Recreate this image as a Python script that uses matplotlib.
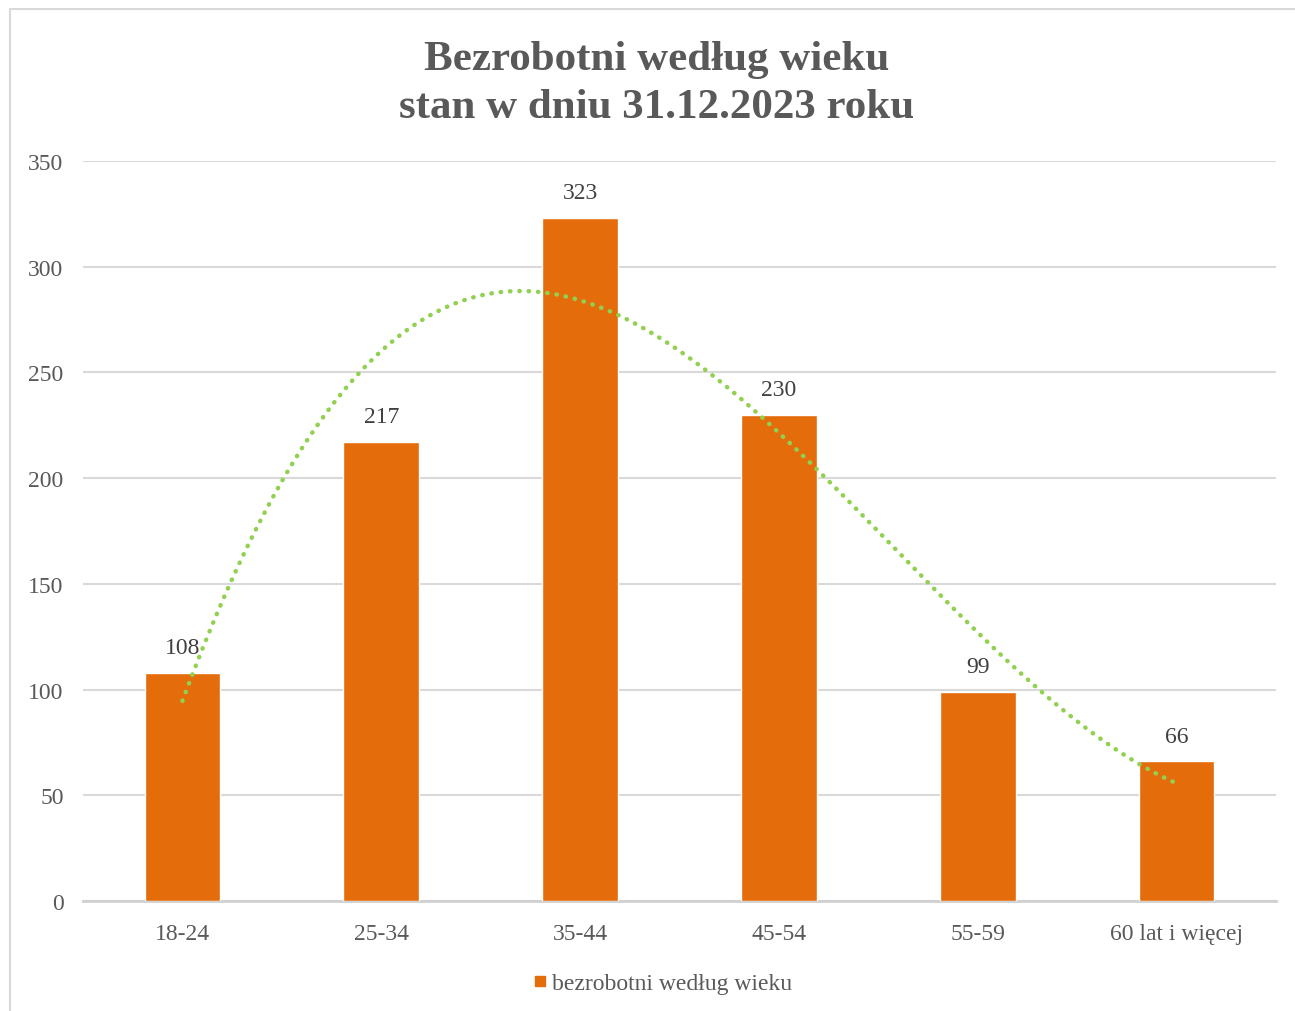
import numpy as np
import matplotlib.pyplot as plt
from matplotlib.patches import Rectangle
from matplotlib.lines import Line2D

plt.rcParams['font.family'] = ['Liberation Serif', 'DejaVu Serif']

# dane
kategorie = ["18-24", "25-34", "35-44", "45-54", "55-59", "60 lat i więcej"]
wartosci = [108, 217, 323, 230, 99, 66]
tytul = "Bezrobotni według wieku\nstan w dniu 31.12.2023 roku"
seria = "bezrobotni według wieku"

kolor_slupka = "#E46C0A"
kolor_trendu = "#92D050"
szary = "#595959"

fig = plt.figure(figsize=(12.95, 10.12), dpi=100)
ax = fig.add_axes([0.0641, 0.1087, 0.9212, 0.7312])

x = np.arange(len(kategorie))
bars = ax.bar(x, wartosci, width=0.38, color=kolor_slupka, edgecolor="white",
              linewidth=1, zorder=3)

for xi, v in zip(x, wartosci):
    ax.text(xi, v + 7, str(v), ha="center", va="bottom", fontsize=17, color="#404040", zorder=5)

# linia trendu wielomianowa (stopien 3), jak w Excelu
wsp = np.polyfit(x + 1, wartosci, 3)
xs = np.linspace(0, 5, 300)
ax.plot(xs, np.polyval(wsp, xs + 1), color=kolor_trendu, linestyle=(0, (0.1, 2.0)),
        linewidth=3.2, dash_capstyle="round", zorder=4)

ax.set_xlim(-0.5, 5.5)
ax.set_ylim(0, 350)
ax.set_yticks(range(0, 351, 50))
ax.set_xticks(x)
ax.set_xticklabels(kategorie)
ax.tick_params(axis="both", length=0, labelsize=17, labelcolor=szary)
ax.tick_params(axis="y", pad=14)
ax.tick_params(axis="x", pad=16)

ax.yaxis.grid(True, color="#D9D9D9", linewidth=1.5, zorder=0)
for s in ["top", "right", "left"]:
    ax.spines[s].set_visible(False)
ax.spines["bottom"].set_color("#D0D0D0")
ax.spines["bottom"].set_linewidth(2)
ax.spines["bottom"].set_zorder(2)

fig.text(0.507, 0.917, tytul, ha="center", va="center", fontsize=31, fontweight="bold",
         color=szary, linespacing=1.33)

uchwyt = Line2D([], [], marker="s", linestyle="none", color=kolor_slupka, markersize=7)
fig.legend([uchwyt], [seria], loc="center", bbox_to_anchor=(0.509, 0.027), frameon=False,
           fontsize=17, labelcolor=szary, handletextpad=-0.1, handlelength=1.2)

# ramka wykresu
fig.patches.append(Rectangle((10 / 1295, -0.05), 1.2, 1 - 10 / 1012 + 0.05,
                             transform=fig.transFigure, fill=False,
                             edgecolor="#D9D9D9", linewidth=1.5))

fig.savefig("out.png", dpi=100, facecolor="white")
